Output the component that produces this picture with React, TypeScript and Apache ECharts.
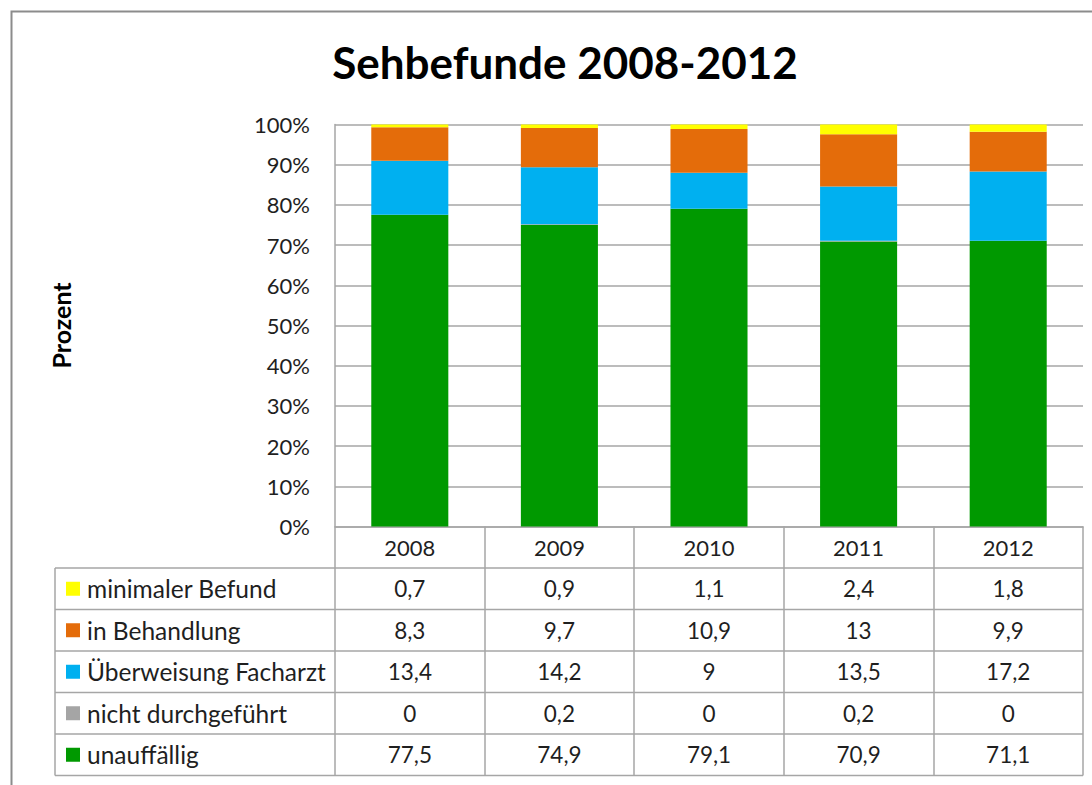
import React, { useEffect, useRef } from "react";
import * as echarts from "echarts";

const years = ["2008", "2009", "2010", "2011", "2012"];
const minimalerBefund = [0.7, 0.9, 1.1, 2.4, 1.8];
const inBehandlung = [8.3, 9.7, 10.9, 13, 9.9];
const ueberweisung = [13.4, 14.2, 9, 13.5, 17.2];
const nichtDurchgefuehrt = [0, 0.2, 0, 0.2, 0];
const unauffaellig = [77.5, 74.9, 79.1, 70.9, 71.1];
const yTicks = [0, 10, 20, 30, 40, 50, 60, 70, 80, 90, 100];

// top-to-bottom order as in the data table
const rows = [
  { name: "minimaler Befund", data: minimalerBefund, color: "#FFFF00" },
  { name: "in Behandlung", data: inBehandlung, color: "#E46C0A" },
  { name: "Überweisung Facharzt", data: ueberweisung, color: "#00B0F0" },
  { name: "nicht durchgeführt", data: nichtDurchgefuehrt, color: "#A5A5A5" },
  { name: "unauffällig", data: unauffaellig, color: "#009900" },
];

const FONT = "Lato, 'Open Sans', sans-serif";
const GRID_LEFT = 335;
const GRID_TOP = 124.5;
const GRID_W = 748;
const GRID_H = 402;
const TABLE_LEFT = 55;
const HEADER_H = 41.5;
const ROW_H = 41.5;
const LINE = "#A6A6A6";
const TEXT = "#1F1F1F";

const fmt = (v: number) => String(v).replace(".", ",");

export default function App() {
  const ref = useRef<HTMLDivElement>(null);
  useEffect(() => {
    if (!ref.current) return;
    const chart = echarts.init(ref.current, undefined, { renderer: "svg" });
    const totals = years.map((_, i) => rows.reduce((s, r) => s + r.data[i], 0));
    const stackOrder = [...rows].reverse();
    chart.setOption({
      animation: false,
      backgroundColor: "#ffffff",
      title: {
        text: "Sehbefunde 2008-2012",
        left: 560,
        textAlign: "center",
        top: 35,
        textStyle: { fontFamily: FONT, fontSize: 44, fontWeight: "bold", color: "#000" },
      },
      grid: { left: GRID_LEFT, top: GRID_TOP, width: GRID_W, height: GRID_H, containLabel: false },
      xAxis: {
        type: "category",
        data: years,
        axisLine: { show: true, lineStyle: { color: LINE, width: 1.5 } },
        axisTick: { show: true, length: HEADER_H + ROW_H * rows.length, lineStyle: { color: LINE, width: 1.5 } },
        axisLabel: {
          show: true,
          margin: 21,
          verticalAlign: "middle",
          fontFamily: FONT,
          fontSize: 22,
          color: TEXT,
        },
      },
      yAxis: {
        type: "value",
        min: yTicks[0],
        max: yTicks[yTicks.length - 1],
        interval: 10,
        name: "Prozent",
        nameLocation: "middle",
        nameRotate: 90,
        nameGap: 262,
        nameTextStyle: { fontFamily: FONT, fontSize: 25, fontWeight: "bold", color: "#000" },
        axisLine: { show: true, lineStyle: { color: LINE, width: 1.5 } },
        axisTick: { show: false },
        splitLine: { show: true, lineStyle: { color: LINE, width: 1.5 } },
        axisLabel: {
          formatter: "{value}%",
          margin: 25,
          fontFamily: FONT,
          fontSize: 22,
          color: TEXT,
        },
      },
      series: stackOrder.map((r) => ({
        type: "bar",
        name: r.name,
        stack: "total",
        barWidth: "51.5%",
        itemStyle: { color: r.color },
        data: r.data.map((v, i) => (v / totals[i]) * 100),
      })),
    });

    const colX = years.map((_, i) => chart.convertToPixel({ xAxisIndex: 0 }, i) as number);
    const tableTop = GRID_TOP + GRID_H + HEADER_H;
    const tableRight = GRID_LEFT + GRID_W;
    const graphics: any[] = [
      {
        type: "rect",
        shape: { x: 11.5, y: 11.5, width: 1200, height: 900 },
        style: { fill: "none", stroke: "#8C8C8C", lineWidth: 2 },
        silent: true,
      },
    ];
    for (let k = 0; k <= rows.length; k++) {
      const y = tableTop + k * ROW_H;
      graphics.push({
        type: "line",
        shape: { x1: TABLE_LEFT, y1: y, x2: tableRight, y2: y },
        style: { stroke: LINE, lineWidth: 1.5 },
      });
    }
    graphics.push({
      type: "line",
      shape: { x1: TABLE_LEFT, y1: tableTop, x2: TABLE_LEFT, y2: tableTop + ROW_H * rows.length },
      style: { stroke: LINE, lineWidth: 1.5 },
    });
    rows.forEach((r, k) => {
      const cy = tableTop + (k + 0.5) * ROW_H;
      graphics.push({
        type: "rect",
        shape: { x: 66, y: cy - 7, width: 14, height: 14 },
        style: { fill: r.color },
      });
      graphics.push({
        type: "text",
        x: 87,
        y: cy,
        style: {
          text: r.name,
          fontFamily: FONT,
          fontSize: 24.5,
          fill: TEXT,
          align: "left",
          verticalAlign: "middle",
        },
      });
      r.data.forEach((v, i) => {
        graphics.push({
          type: "text",
          x: colX[i],
          y: cy,
          style: {
            text: fmt(v),
            fontFamily: FONT,
            fontSize: 22.5,
            fill: TEXT,
            align: "center",
            verticalAlign: "middle",
          },
        });
      });
    });
    chart.setOption({ graphic: graphics });
    return () => chart.dispose();
  }, []);
  return (
    <div
      ref={ref}
      style={{ position: "fixed", left: 0, top: 0, width: 1092, height: 785, background: "#fff" }}
    />
  );
}
